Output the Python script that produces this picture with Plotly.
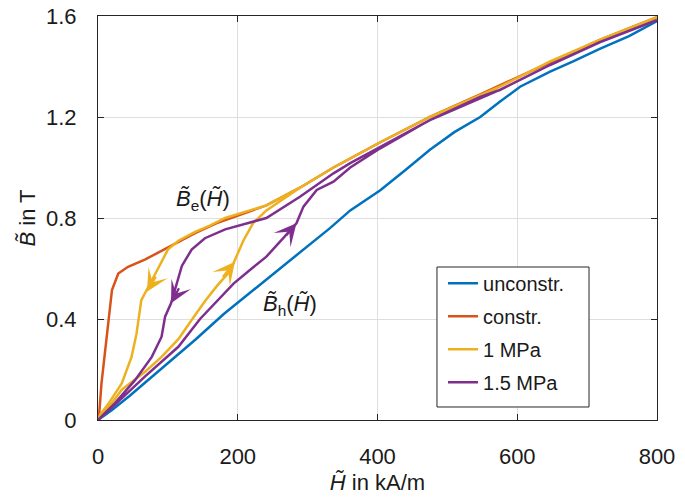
import plotly.graph_objects as go

# ---------------- data ----------------
unconstr_H = [0, 20, 45, 90, 140, 180, 220, 260, 300, 332, 361, 404, 440, 475, 510, 547, 575, 604, 647, 680, 718, 760, 800]
unconstr_B = [0, 0.04, 0.095, 0.20, 0.32, 0.42, 0.51, 0.60, 0.69, 0.76, 0.83, 0.91, 0.99, 1.07, 1.14, 1.20, 1.26, 1.32, 1.38, 1.42, 1.47, 1.52, 1.58]

constr_H = [0, 1.4, 5, 10, 15, 20, 29, 43, 67, 91, 115, 139, 170, 200, 241, 289, 337, 404, 475, 547, 618, 718, 800]
constr_B = [0, 0.013, 0.145, 0.277, 0.41, 0.515, 0.58, 0.607, 0.635, 0.67, 0.706, 0.74, 0.78, 0.81, 0.85, 0.92, 1.0, 1.10, 1.20, 1.29, 1.38, 1.505, 1.595]

mpa1_up_H = [0, 10, 34, 67, 91, 115, 135, 153, 170, 189, 208, 222, 241, 260, 289, 337, 404, 475, 547, 575, 618, 647, 718, 800]
mpa1_up_B = [0, 0.03, 0.12, 0.19, 0.25, 0.32, 0.40, 0.47, 0.53, 0.59, 0.71, 0.78, 0.83, 0.865, 0.92, 1.0, 1.10, 1.20, 1.285, 1.32, 1.38, 1.42, 1.505, 1.595]
mpa1_down_H = [800, 718, 647, 575, 547, 475, 404, 337, 289, 241, 200, 182, 160, 139, 115, 100, 86, 77, 62, 55, 48, 34, 15, 3, 0]
mpa1_down_B = [1.595, 1.50, 1.42, 1.32, 1.28, 1.20, 1.10, 1.00, 0.92, 0.85, 0.815, 0.80, 0.77, 0.745, 0.71, 0.675, 0.60, 0.555, 0.475, 0.34, 0.25, 0.145, 0.065, 0.02, 0]

mpa15_up_H = [0, 24, 67, 115, 146, 170, 194, 220, 241, 267, 284, 294, 313, 337, 361, 404, 475, 547, 575, 604, 647, 718, 800]
mpa15_up_B = [0, 0.06, 0.172, 0.29, 0.40, 0.47, 0.54, 0.60, 0.647, 0.726, 0.779, 0.845, 0.911, 0.944, 1.0, 1.076, 1.188, 1.28, 1.307, 1.347, 1.406, 1.496, 1.584]
mpa15_down_H = [800, 718, 647, 575, 475, 404, 361, 337, 289, 241, 194, 182, 153, 134, 120, 110, 104.5, 96, 91, 77, 53, 24, 5, 0]
mpa15_down_B = [1.584, 1.496, 1.406, 1.307, 1.188, 1.08, 1.017, 0.977, 0.884, 0.80, 0.765, 0.755, 0.72, 0.675, 0.61, 0.515, 0.462, 0.409, 0.33, 0.25, 0.158, 0.066, 0.013, 0]

series_names = ["unconstr.", "constr.", "1 MPa", "1.5 MPa"]
series_colors = ["#0072BD", "#D95319", "#EDB120", "#7E2F8E"]

# arrows: tail -> head along the hysteresis branches
arrow_tail_H = [84, 117, 177, 267.6]
arrow_tail_B = [0.574, 0.528, 0.561, 0.726]
arrow_head_H = [70, 104.5, 196, 284]
arrow_head_B = [0.508, 0.462, 0.627, 0.779]
arrow_colors = ["#EDB120", "#7E2F8E", "#EDB120", "#7E2F8E"]

x_ticks = [0, 200, 400, 600, 800]
y_ticks = [0, 0.4, 0.8, 1.2, 1.6]
y_tick_text = ["0", "0.4", "0.8", "1.2", "1.6"]

# ---------------- figure ----------------
series_H = [unconstr_H, constr_H, mpa1_up_H + mpa1_down_H, mpa15_up_H + mpa15_down_H]
series_B = [unconstr_B, constr_B, mpa1_up_B + mpa1_down_B, mpa15_up_B + mpa15_down_B]

fig = go.Figure()
for name, col, h, b in zip(series_names, series_colors, series_H, series_B):
    fig.add_trace(go.Scatter(x=h, y=b, mode="lines", name=name, legendgroup=name,
                             line=dict(color=col, width=2.5)))

for th, tb, hh, hb, c in zip(arrow_tail_H, arrow_tail_B, arrow_head_H, arrow_head_B, arrow_colors):
    fig.add_annotation(x=hh, y=hb, ax=th, ay=tb, xref="x", yref="y", axref="x", ayref="y",
                       text="", showarrow=True, arrowhead=3, arrowsize=1.6, arrowwidth=2.3,
                       arrowcolor=c)

font_family = "Liberation Sans, Arial, sans-serif"
fig.add_annotation(x=150, y=0.871, xref="x", yref="y", showarrow=False,
                   text="<i>B\u0303</i><sub>e</sub>(<i>H\u0303</i>)",
                   font=dict(size=22, color="#1a1a1a", family=font_family))
fig.add_annotation(x=275, y=0.455, xref="x", yref="y", showarrow=False,
                   text="<i>B\u0303</i><sub>h</sub>(<i>H\u0303</i>)",
                   font=dict(size=22, color="#1a1a1a", family=font_family))

# legend frame
fig.add_shape(type="rect", xref="paper", yref="paper", x0=0.6064, x1=0.8784, y0=0.0322, y1=0.3787,
              line=dict(color="#262626", width=1), fillcolor="white", layer="above")

axis_common = dict(showline=True, linecolor="#262626", linewidth=1, mirror="allticks",
                   ticks="inside", ticklen=6, tickcolor="#262626",
                   showgrid=True, gridcolor="#dedede", gridwidth=1, zeroline=False,
                   ticklabeloverflow="allow",
                   tickfont=dict(size=22, color="#1a1a1a", family=font_family))

fig.update_xaxes(range=[0, 800], tickvals=x_ticks, ticklabelstandoff=17,
                 title=dict(text="<i>H\u0303</i> in kA/m", standoff=6,
                            font=dict(size=22, color="#1a1a1a", family=font_family)),
                 **axis_common)
fig.update_yaxes(range=[0, 1.6], tickvals=y_ticks, ticktext=y_tick_text, ticklabelstandoff=16,
                 title=dict(text="<i>B\u0303</i> in T", standoff=4,
                            font=dict(size=22, color="#1a1a1a", family=font_family)),
                 **axis_common)

fig.update_layout(
    width=685, height=499,
    margin=dict(l=98, r=28, t=16, b=79, autoexpand=False),
    paper_bgcolor="white", plot_bgcolor="white",
    showlegend=True,
    legend=dict(x=0.6172, y=0.3866, xanchor="left", yanchor="top",
                bgcolor="rgba(0,0,0,0)", borderwidth=0,
                font=dict(size=20, color="#1a1a1a", family=font_family),
                tracegroupgap=4, traceorder="grouped", itemwidth=30),
    font=dict(family=font_family),
)

fig.write_html("out.html", config={"displayModeBar": False},
               post_script="document.body.style.margin='0';")
